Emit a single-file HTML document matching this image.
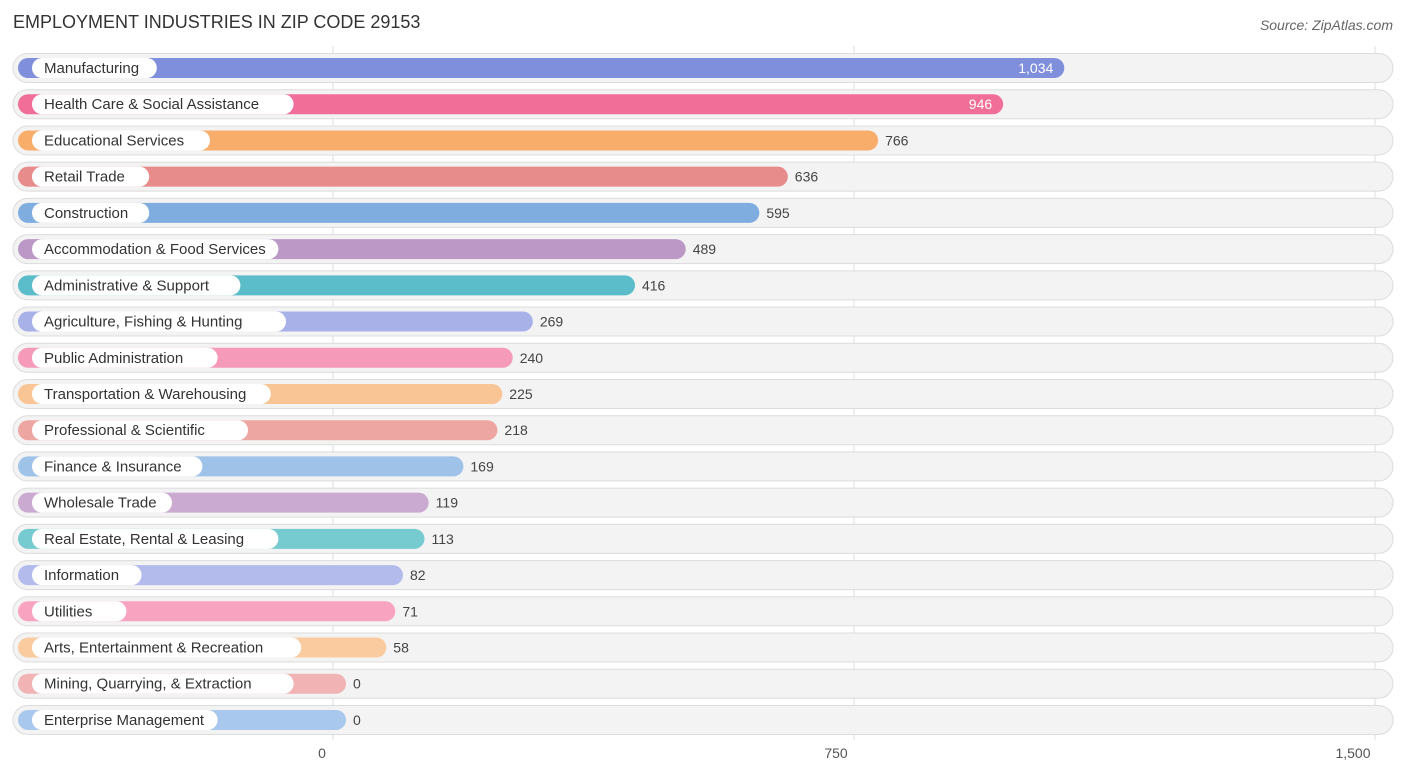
<!DOCTYPE html>
<html><head><meta charset="utf-8"><style>
body{margin:0;background:#fff;font-family:"Liberation Sans",sans-serif;}
svg{display:block}
</style></head><body>
<svg id="chart" width="1406" height="776">
<text x="13" y="28" font-size="18" fill="#333">EMPLOYMENT INDUSTRIES IN ZIP CODE 29153</text>
<text x="1393" y="30" font-size="14" fill="#666" font-style="italic" text-anchor="end">Source: ZipAtlas.com</text>
<g id="grid"></g><g id="rows"></g><g id="ticks"></g>
</svg>
<script>
const categories=["Manufacturing","Health Care & Social Assistance","Educational Services","Retail Trade","Construction","Accommodation & Food Services","Administrative & Support","Agriculture, Fishing & Hunting","Public Administration","Transportation & Warehousing","Professional & Scientific","Finance & Insurance","Wholesale Trade","Real Estate, Rental & Leasing","Information","Utilities","Arts, Entertainment & Recreation","Mining, Quarrying, & Extraction","Enterprise Management"];
const values=[1034,946,766,636,595,489,416,269,240,225,218,169,119,113,82,71,58,0,0];
const colors=["#7f8fdc","#f06e98","#f8ae6a","#e78c8a","#80ade0","#bb98c6","#5abdc9","#a8b1e8","#f59ab8","#f9c595","#eea6a3","#9fc2e8","#cbaad2","#76cbd0","#b3bbec","#f8a3c0","#f9cb9e","#f1b3b3","#a9c8ee"];
const tickValues=[0,750,1500];
const tickLabels=["0","750","1,500"];
const NS="http://www.w3.org/2000/svg";
const x0=333,x1=1375,vmax=1500;
const xs=v=>x0+(v/vmax)*(x1-x0);
const rowY=i=>68+i*36.22;
function mk(tag,attrs,parent){const e=document.createElementNS(NS,tag);for(const k in attrs)e.setAttribute(k,attrs[k]);parent.appendChild(e);return e;}
const grid=document.getElementById('grid'),rows=document.getElementById('rows'),ticks=document.getElementById('ticks');
tickValues.forEach((t,i)=>{
 const l=mk('line',{x1:xs(t),x2:xs(t),y1:46,y2:740,stroke:'#ddd','stroke-width':1},grid);
 
 
 const tx=mk('text',{x:xs(t)-(i==2?22:i==1?18:11),y:758,'font-size':14,fill:'#555','text-anchor':'middle'},ticks);
 tx.textContent=tickLabels[i];
 
 
});
categories.forEach((c,i)=>{
 const y=rowY(i),v=values[i];
 const g=mk('g',{},rows);
 
 
 mk('rect',{x:13,y:y-14.5,width:1380,height:29,rx:14.5,fill:'#f3f3f3',stroke:'#dcdcdc','stroke-width':1},g);
 const end=xs(v)+13;
 const b=mk('rect',{x:18,y:y-10,width:end-18,height:20,rx:10,fill:colors[i]},g);
 
 
 const lw=c.length*7.6+26;
 mk('rect',{x:32,y:y-10,width:lw,height:20,rx:10,fill:'#fff'},g);
 const lt=mk('text',{x:44,y:y+5,'font-size':15,fill:'#333'},g);
 lt.textContent=c;
 
 
 const inside=v>900;
 const vt=mk('text',{x:inside?end-11:end+7,y:y+5,'font-size':14,fill:inside?'#fff':'#444','text-anchor':inside?'end':'start'},g);
 vt.textContent=v.toLocaleString('en-US');
 
 
});
</script>
</body></html>
